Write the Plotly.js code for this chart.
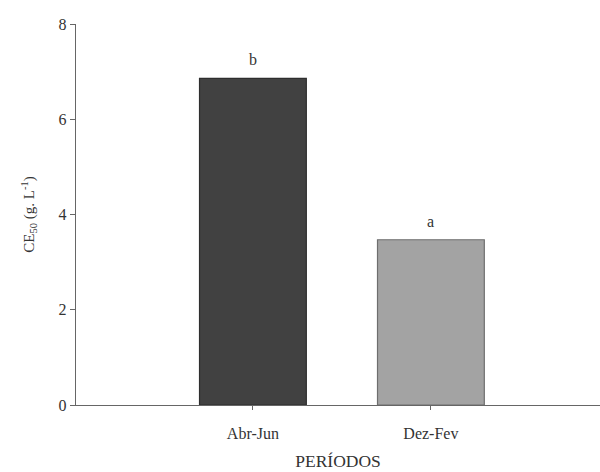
<!DOCTYPE html>
<html>
<head>
<meta charset="utf-8">
<script src="https://cdn.plot.ly/plotly-3.0.1.min.js"></script>
<style>
  html, body { margin: 0; padding: 0; background: #fff; }
  #chart { width: 600px; height: 472px; }
</style>
</head>
<body>
<div id="chart"></div>
<script>
// CE50 per sampling period, with significance letters
const periods = ['Abr-Jun', 'Dez-Fev'];
const ce50 = [6.86, 3.47];
const letters = ['b', 'a'];
const fillColors = ['#414141', '#a3a3a3'];
const edgeColors = ['#2e2e2e', '#6e6e6e'];
const yTicks = [0, 2, 4, 6, 8];

const serif = 'Liberation Serif, Times New Roman, serif';
const ink = '#333';

const trace = {
  type: 'bar',
  x: periods,
  y: ce50,
  width: 0.6,
  marker: { color: fillColors, line: { color: edgeColors, width: 1.2 } },
  hoverinfo: 'x+y'
};

// significance letters sit a little above each bar top
const letterNotes = periods.map((p, i) => ({
  x: p,
  y: ce50[i],
  xref: 'x',
  yref: 'y',
  text: letters[i],
  showarrow: false,
  yanchor: 'bottom',
  yshift: 8,
  font: { family: serif, size: 16, color: ink }
}));

const layout = {
  width: 600,
  height: 472,
  margin: { l: 76, r: 0, t: 24, b: 67 },
  paper_bgcolor: '#fff',
  plot_bgcolor: '#fff',
  showlegend: false,
  font: { family: serif, size: 16, color: ink },
  annotations: letterNotes,
  xaxis: {
    type: 'category',
    range: [-0.994, 1.95],
    showline: true,
    linecolor: '#666',
    linewidth: 1.3,
    ticks: 'outside',
    ticklen: 4,
    tickcolor: '#666',
    ticklabelstandoff: 9,
    showgrid: false,
    zeroline: false,
    tickfont: { family: serif, size: 16, color: ink },
    title: { text: 'PERÍODOS', font: { family: serif, size: 17.5, color: ink }, standoff: 14 }
  },
  yaxis: {
    range: [0, 8],
    tickvals: yTicks,
    showline: true,
    linecolor: '#666',
    linewidth: 1.3,
    ticks: 'outside',
    ticklen: 5,
    tickcolor: '#666',
    showgrid: false,
    zeroline: false,
    tickfont: { family: serif, size: 16, color: ink },
    title: { text: 'CE<sub>50</sub> (g. L<sup>-1</sup>)', font: { family: serif, size: 15, color: ink }, standoff: 20 }
  }
};

Plotly.newPlot('chart', [trace], layout, { displayModeBar: false, staticPlot: true });
</script>
</body>
</html>
